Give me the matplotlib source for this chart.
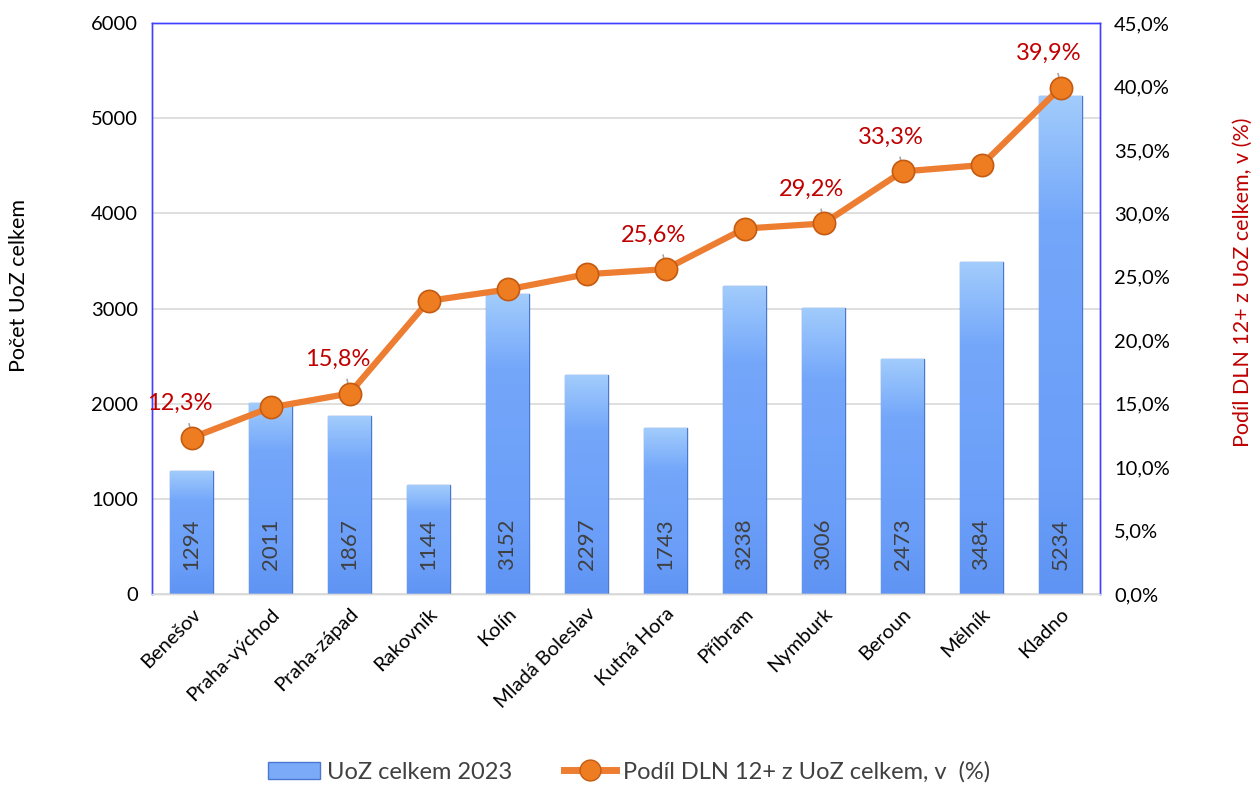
import matplotlib
matplotlib.use("Agg")
import matplotlib.pyplot as plt
import numpy as np
from matplotlib.ticker import FuncFormatter
from matplotlib.colors import LinearSegmentedColormap
from matplotlib.patches import Patch
from matplotlib.lines import Line2D

plt.rcParams['font.family'] = ['Lato', 'DejaVu Sans']

districts = ["Benešov", "Praha-východ", "Praha-západ", "Rakovník", "Kolín", "Mladá Boleslav",
             "Kutná Hora", "Příbram", "Nymburk", "Beroun", "Mělník", "Kladno"]
uoz_total = [1294, 2011, 1867, 1144, 3152, 2297, 1743, 3238, 3006, 2473, 3484, 5234]
dln_share = [12.3, 14.7, 15.8, 23.1, 24.0, 25.2, 25.6, 28.8, 29.2, 33.3, 33.8, 39.9]
labeled = [0, 2, 6, 8, 9, 11]

fig = plt.figure(figsize=(12.58, 7.87), dpi=100)
ax = fig.add_axes([152/1258, 1-594/787, (1100-152)/1258, (594-23)/787])
ax2 = ax.twinx()

x = np.arange(len(districts))
bars = ax.bar(x, uoz_total, width=0.54, color="#6a9ef8", edgecolor="#4a78d0", linewidth=1.0, zorder=2)
grad = np.linspace(0, 1, 256).reshape(-1, 1)
cmap = LinearSegmentedColormap.from_list("b", ["#5f94f4", "#6a9ef8", "#6fa2f9", "#74a7fa", "#a2ccfc"])
for b in bars:
    x0, y0 = b.get_x(), b.get_y()
    w, h = b.get_width(), b.get_height()
    im = ax.imshow(grad, extent=[x0, x0 + w, y0, y0 + h], aspect="auto", cmap=cmap,
                   origin="lower", zorder=2.1)
    im.set_clip_path(b)
for xi, v in zip(x, uoz_total):
    ax.text(xi, 520, f"{v}", rotation=90, ha="center", va="center", fontsize=16,
            color="#404040", zorder=3)

ax.set_xlim(-0.5, len(districts) - 0.5)
ax.set_ylim(0, 6000)
ax.set_yticks(np.arange(0, 6001, 1000))
ax.grid(axis="y", color="#d9d9d9", linewidth=1.2, zorder=0)
ax.set_axisbelow(True)
ax.set_xticks(x)
ax.set_xticklabels(districts, rotation=45, ha="right", rotation_mode="anchor", fontsize=14.5)
ax.tick_params(axis="x", length=0, pad=8)
ax.tick_params(axis="y", length=0, labelsize=14.5, pad=10)
ax.set_ylabel("Počet UoZ celkem", fontsize=15.5)
ax.yaxis.set_label_coords(-0.130, 0.541)

ax2.set_ylim(0, 45)
ax2.set_yticks(np.arange(0, 45.1, 5))
ax2.yaxis.set_major_formatter(FuncFormatter(lambda v, p: f"{v:.1f}%".replace(".", ",")))
ax2.tick_params(axis="y", length=0, labelsize=14.5, pad=10)
ax2.set_ylabel("Podíl DLN 12+ z UoZ celkem, v (%)", fontsize=15.5, color="#c00000")
ax2.yaxis.set_label_coords(1.1400, 0.546)

ax2.plot(x, dln_share, color="#ed7d31", linewidth=4.5, marker="o", markersize=16,
         markerfacecolor="#ee7d22", markeredgecolor="#c55a11", markeredgewidth=1.2,
         zorder=5, solid_capstyle="round")
for i in labeled:
    ax2.plot([x[i] - 0.03, x[i]], [dln_share[i] + 1.1, dln_share[i] + 0.2], color="#a6a6a6",
             linewidth=1.2, zorder=4)
    ax2.text(x[i] - 0.15, dln_share[i] + 2.7, f"{dln_share[i]:.1f}%".replace(".", ","),
             ha="center", va="center", fontsize=17, color="#c00000", zorder=6)

for a in (ax, ax2):
    for s in a.spines.values():
        s.set_color("#4040ff")
        s.set_linewidth(1)
    a.spines["bottom"].set_color("#d9d9d9")

handles = [Patch(facecolor="#7aaaf8", edgecolor="#4a78d0"),
           Line2D([0], [0], color="#ed7d31", linewidth=5, marker="o", markersize=15,
                  markerfacecolor="#ee7d22", markeredgecolor="#c55a11")]
fig.legend(handles, ["UoZ celkem 2023", "Podíl DLN 12+ z UoZ celkem, v  (%)"],
           loc="center", bbox_to_anchor=(0.5, 1 - 772/787), ncol=2, frameon=False,
           fontsize=17, labelcolor="#404040", handlelength=2.2, columnspacing=2.2,
           handletextpad=0.3)

fig.savefig("out.png", dpi=100)
